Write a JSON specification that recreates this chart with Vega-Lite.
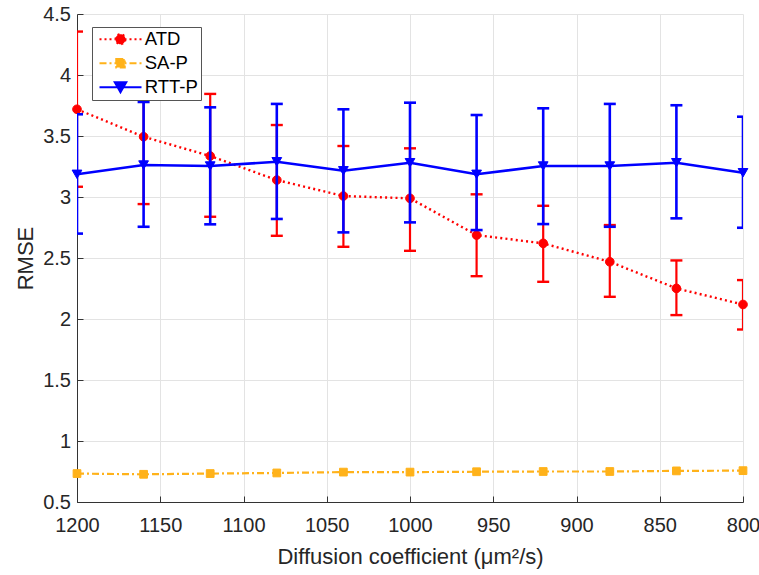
{
  "$schema": "https://vega.github.io/schema/vega-lite/v6.json",
  "width": 666,
  "height": 488,
  "autosize": {"type": "none"},
  "padding": {"left": 77, "top": 14, "right": 16, "bottom": 73},
  "background": "white",
  "config": {
    "font": "Liberation Sans",
    "view": {"stroke": null},
    "axis": {
      "gridColor": "#e3e3e3",
      "gridWidth": 1,
      "domainColor": "#333333",
      "domainWidth": 1,
      "tickColor": "#333333",
      "labelColor": "#262626",
      "titleColor": "#262626",
      "labelFontSize": 20,
      "titleFontSize": 22,
      "titleFontWeight": "normal"
    }
  },
  "data": {
    "values": [
      {"x": 1200, "series": "ATD", "mean": 3.719, "lo": 3.084, "hi": 4.356},
      {"x": 1160, "series": "ATD", "mean": 3.494, "lo": 2.942, "hi": 4.046},
      {"x": 1120, "series": "ATD", "mean": 3.336, "lo": 2.838, "hi": 3.845},
      {"x": 1080, "series": "ATD", "mean": 3.139, "lo": 2.682, "hi": 3.59},
      {"x": 1040, "series": "ATD", "mean": 3.008, "lo": 2.592, "hi": 3.418},
      {"x": 1000, "series": "ATD", "mean": 2.989, "lo": 2.559, "hi": 3.399},
      {"x": 960, "series": "ATD", "mean": 2.688, "lo": 2.351, "hi": 3.022},
      {"x": 920, "series": "ATD", "mean": 2.62, "lo": 2.305, "hi": 2.928},
      {"x": 880, "series": "ATD", "mean": 2.469, "lo": 2.182, "hi": 2.77},
      {"x": 840, "series": "ATD", "mean": 2.251, "lo": 2.032, "hi": 2.48},
      {"x": 800, "series": "ATD", "mean": 2.119, "lo": 1.914, "hi": 2.319},
      {"x": 1200, "series": "SA-P", "mean": 0.733},
      {"x": 1160, "series": "SA-P", "mean": 0.727},
      {"x": 1120, "series": "SA-P", "mean": 0.733},
      {"x": 1080, "series": "SA-P", "mean": 0.738},
      {"x": 1040, "series": "SA-P", "mean": 0.745},
      {"x": 1000, "series": "SA-P", "mean": 0.745},
      {"x": 960, "series": "SA-P", "mean": 0.748},
      {"x": 920, "series": "SA-P", "mean": 0.75},
      {"x": 880, "series": "SA-P", "mean": 0.75},
      {"x": 840, "series": "SA-P", "mean": 0.755},
      {"x": 800, "series": "SA-P", "mean": 0.757},
      {"x": 1200, "series": "RTT-P", "mean": 3.186, "lo": 2.7, "hi": 3.678},
      {"x": 1160, "series": "RTT-P", "mean": 3.262, "lo": 2.756, "hi": 3.779},
      {"x": 1120, "series": "RTT-P", "mean": 3.254, "lo": 2.776, "hi": 3.735},
      {"x": 1080, "series": "RTT-P", "mean": 3.289, "lo": 2.82, "hi": 3.763},
      {"x": 1040, "series": "RTT-P", "mean": 3.215, "lo": 2.71, "hi": 3.719},
      {"x": 1000, "series": "RTT-P", "mean": 3.281, "lo": 2.792, "hi": 3.773},
      {"x": 960, "series": "RTT-P", "mean": 3.186, "lo": 2.729, "hi": 3.672},
      {"x": 920, "series": "RTT-P", "mean": 3.254, "lo": 2.778, "hi": 3.727},
      {"x": 880, "series": "RTT-P", "mean": 3.254, "lo": 2.756, "hi": 3.763},
      {"x": 840, "series": "RTT-P", "mean": 3.281, "lo": 2.825, "hi": 3.752},
      {"x": 800, "series": "RTT-P", "mean": 3.199, "lo": 2.748, "hi": 3.658}
    ]
  },
  "encoding": {
    "x": {
      "field": "x",
      "type": "quantitative",
      "scale": {"domain": [800, 1200], "reverse": true, "nice": false, "zero": false},
      "axis": {
        "title": "Diffusion coefficient (μm²/s)",
        "values": [800, 850, 900, 950, 1000, 1050, 1100, 1150, 1200],
        "format": "d",
        "labelFlush": false,
        "labelOverlap": false,
        "grid": true,
        "tickSize": -6,
        "labelPadding": 19,
        "titleX": 333,
        "titleY": 61,
        "titleBaseline": "alphabetic"
      }
    },
    "y": {
      "field": "mean",
      "type": "quantitative",
      "title": "RMSE",
      "scale": {"domain": [0.5, 4.5], "nice": false, "zero": false},
      "axis": {
        "values": [0.5, 1, 1.5, 2, 2.5, 3, 3.5, 4, 4.5],
        "format": "~g",
        "grid": true,
        "tickSize": -6,
        "labelPadding": 12.5,
        "titleX": -52,
        "titleY": 244,
        "titleBaseline": "middle"
      }
    }
  },
  "layer": [
    {
      "transform": [{"filter": "datum.series === 'ATD'"}],
      "layer": [
        {
          "mark": {"type": "rule", "color": "#ff0000", "strokeWidth": 2.2, "clip": true},
          "encoding": {"y": {"field": "lo", "type": "quantitative", "title": "RMSE"}, "y2": {"field": "hi"}}
        },
        {
          "mark": {"type": "tick", "orient": "horizontal", "color": "#ff0000", "size": 12, "thickness": 2.4, "clip": true, "opacity": 1},
          "encoding": {"y": {"field": "lo", "type": "quantitative", "title": "RMSE"}}
        },
        {
          "mark": {"type": "tick", "orient": "horizontal", "color": "#ff0000", "size": 12, "thickness": 2.4, "clip": true, "opacity": 1},
          "encoding": {"y": {"field": "hi", "type": "quantitative", "title": "RMSE"}}
        },
        {
          "mark": {"type": "line", "color": "#ff0000", "strokeWidth": 2.4, "strokeDash": [2, 3.2]}
        },
        {
          "mark": {"type": "point", "filled": true, "shape": "circle", "size": 75, "color": "#ff0000", "stroke": "#ff0000", "strokeWidth": 1, "opacity": 1}
        }
      ]
    },
    {
      "transform": [{"filter": "datum.series === 'SA-P'"}],
      "layer": [
        {
          "mark": {"type": "line", "color": "#ffb21a", "strokeWidth": 2.2, "strokeDash": [7, 3, 2, 3]}
        },
        {
          "mark": {"type": "point", "filled": true, "shape": "square", "size": 60, "color": "#ffb21a", "stroke": "#ffb21a", "strokeWidth": 1, "opacity": 1}
        }
      ]
    },
    {
      "transform": [{"filter": "datum.series === 'RTT-P'"}],
      "layer": [
        {
          "mark": {"type": "rule", "color": "#0000ff", "strokeWidth": 2.6, "clip": true},
          "encoding": {"y": {"field": "lo", "type": "quantitative", "title": "RMSE"}, "y2": {"field": "hi"}}
        },
        {
          "mark": {"type": "tick", "orient": "horizontal", "color": "#0000ff", "size": 12, "thickness": 2.6, "clip": true, "opacity": 1},
          "encoding": {"y": {"field": "lo", "type": "quantitative", "title": "RMSE"}}
        },
        {
          "mark": {"type": "tick", "orient": "horizontal", "color": "#0000ff", "size": 12, "thickness": 2.6, "clip": true, "opacity": 1},
          "encoding": {"y": {"field": "hi", "type": "quantitative", "title": "RMSE"}}
        },
        {
          "mark": {"type": "line", "color": "#0000ff", "strokeWidth": 2.6}
        },
        {
          "mark": {"type": "point", "filled": true, "shape": "triangle-down", "size": 95, "color": "#0000ff", "stroke": "#0000ff", "strokeWidth": 1, "opacity": 1}
        }
      ]
    },
    {
      "transform": [{"filter": "false"}],
      "mark": {"type": "point", "filled": true, "opacity": 1, "size": 100, "strokeWidth": 2},
      "encoding": {
        "color": {
          "field": "series",
          "type": "nominal",
          "scale": {"domain": ["ATD", "SA-P", "RTT-P"], "range": ["#ff0000", "#ffb21a", "#0000ff"]},
          "legend": {
            "orient": "none",
            "legendX": 15,
            "legendY": 13,
            "title": null,
            "padding": 3,
            "strokeColor": "#555555",
            "fillColor": "#ffffff",
            "labelFontSize": 18.5,
            "labelColor": "#000000",
            "rowPadding": 5,
            "symbolSize": 100,
            "symbolStrokeWidth": 2,
            "symbolOffset": 16.25,
            "labelOffset": 15,
            "labelExpr": "datum.label + '\u00a0\u00a0'"
          }
        },
        "stroke": {
          "field": "series",
          "type": "nominal",
          "scale": {"domain": ["ATD", "SA-P", "RTT-P"], "range": ["#ff0000", "#ffb21a", "#0000ff"]},
          "legend": {"title": null}
        },
        "shape": {
          "field": "series",
          "type": "nominal",
          "scale": {
            "domain": ["ATD", "SA-P", "RTT-P"],
            "range": [
              "M-4.2,0H4.2M1,0A1,1,0,1,1,-1,0A1,1,0,1,1,1,0Z",
              "M-4.2,0H4.2M-0.85,-0.85H0.85V0.85H-0.85Z",
              "M-4.2,0H4.2M-1.15,-1H1.15L0,1Z"
            ]
          },
          "legend": {"title": null}
        },
        "strokeDash": {
          "field": "series",
          "type": "nominal",
          "scale": {"domain": ["ATD", "SA-P", "RTT-P"], "range": [[2, 3], [7, 3, 2, 3], [1, 0]]},
          "legend": {"title": null}
        }
      }
    }
  ]
}
